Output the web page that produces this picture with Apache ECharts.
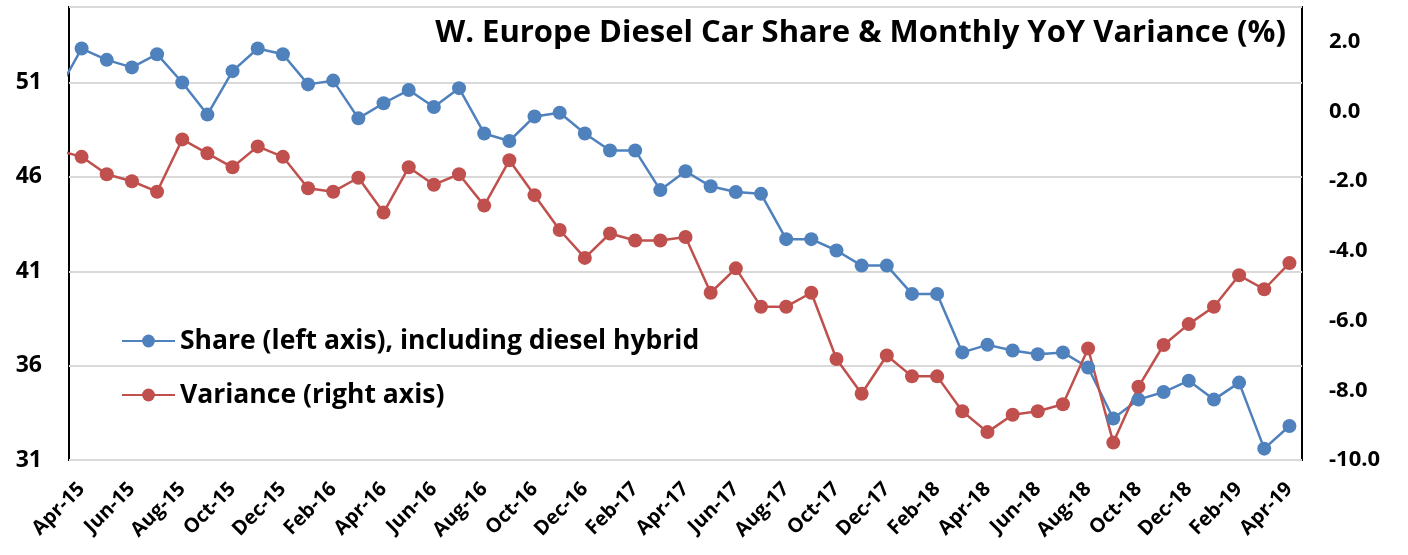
<!DOCTYPE html>
<html>
<head>
<meta charset="utf-8">
<script src="https://cdn.jsdelivr.net/npm/echarts@6/dist/echarts.min.js"></script>
<style>
html,body{margin:0;padding:0;background:#fff;}
#chart{width:1408px;height:555px;}
</style>
</head>
<body>
<div id="chart"></div>
<script>
// First entry (Mar-15) lies just left of the visible axis range and is clipped.
const months = ['Mar-15','Apr-15','May-15','Jun-15','Jul-15','Aug-15','Sep-15','Oct-15','Nov-15','Dec-15',
  'Jan-16','Feb-16','Mar-16','Apr-16','May-16','Jun-16','Jul-16','Aug-16','Sep-16','Oct-16','Nov-16','Dec-16',
  'Jan-17','Feb-17','Mar-17','Apr-17','May-17','Jun-17','Jul-17','Aug-17','Sep-17','Oct-17','Nov-17','Dec-17',
  'Jan-18','Feb-18','Mar-18','Apr-18','May-18','Jun-18','Jul-18','Aug-18','Sep-18','Oct-18','Nov-18','Dec-18',
  'Jan-19','Feb-19','Mar-19','Apr-19'];
const share = [50.4,52.8,52.2,51.8,52.5,51.0,49.3,51.6,52.8,52.5,
  50.9,51.1,49.1,49.9,50.6,49.7,50.7,48.3,47.9,49.2,49.4,48.3,
  47.4,47.4,45.3,46.3,45.5,45.2,45.1,42.7,42.7,42.1,41.3,41.3,
  39.8,39.8,36.7,37.1,36.8,36.6,36.7,35.9,33.2,34.2,34.6,35.2,
  34.2,35.1,31.6,32.8];
const variance = [-1.1,-1.3,-1.8,-2.0,-2.3,-0.8,-1.2,-1.6,-1.0,-1.3,
  -2.2,-2.3,-1.9,-2.9,-1.6,-2.1,-1.8,-2.7,-1.4,-2.4,-3.4,-4.2,
  -3.5,-3.7,-3.7,-3.6,-5.2,-4.5,-5.6,-5.6,-5.2,-7.1,-8.1,-7.0,
  -7.6,-7.6,-8.6,-9.2,-8.7,-8.6,-8.4,-6.8,-9.5,-7.9,-6.7,-6.1,
  -5.6,-4.7,-5.1,-4.35];
const titleText = 'W. Europe Diesel Car Share & Monthly YoY Variance (%)';
const seriesNames = ['Share (left axis), including diesel hybrid', 'Variance (right axis)'];
const leftAxis = {min: 31, max: 55, interval: 5};
const rightAxis = {min: -10, max: 3, interval: 2};

const FONT = '"Open Sans"';
const visibleMonths = months.slice(1);
const chart = echarts.init(document.getElementById('chart'), null, {renderer: 'canvas'});
const toPairs = arr => arr.map((v, i) => [i - 1, v]);

chart.setOption({
  animation: false,
  backgroundColor: '#fff',
  textStyle: {fontFamily: FONT},
  title: {
    text: titleText,
    right: 117, top: 13,
    textStyle: {fontFamily: FONT, fontWeight: 'bold', fontSize: 31, color: '#000'}
  },
  grid: {
    left: 69, right: 106, top: 7, bottom: 95,
    show: true, borderColor: '#000', borderWidth: 2, backgroundColor: 'transparent'
  },
  legend: {
    orient: 'vertical',
    left: 116, top: 321,
    itemWidth: 53, itemHeight: 16, itemGap: 24,
    data: seriesNames,
    textStyle: {fontFamily: FONT, fontWeight: 'bold', fontSize: 26.5, color: '#000', lineHeight: 30}
  },
  xAxis: [
    {
      type: 'category', data: visibleMonths, boundaryGap: true,
      axisLine: {show: false}, axisTick: {show: false},
      axisLabel: {interval: 1, rotate: 45, margin: 26, fontFamily: FONT, fontWeight: 'bold', fontSize: 20, color: '#000'},
      splitLine: {show: false}
    },
    {type: 'value', min: -0.5, max: months.length - 1.5, show: false}
  ],
  yAxis: [
    {
      type: 'value', min: leftAxis.min, max: leftAxis.max, interval: leftAxis.interval,
      axisLine: {show: false}, axisTick: {show: false},
      axisLabel: {margin: 27, fontFamily: FONT, fontWeight: 'bold', fontSize: 23, color: '#000',
        formatter: v => ((v - leftAxis.min) % leftAxis.interval === 0 && v < leftAxis.max) ? String(v) : ''},
      splitLine: {show: true, lineStyle: {color: '#d9d9d9', width: 2}}
    },
    {
      type: 'value', min: rightAxis.min, max: rightAxis.max, interval: rightAxis.interval,
      position: 'right',
      axisLine: {show: false}, axisTick: {show: false},
      axisLabel: {margin: 27, fontFamily: FONT, fontWeight: 'bold', fontSize: 22, color: '#000',
        formatter: v => (v < rightAxis.max) ? v.toFixed(1) : ''},
      splitLine: {show: false}
    }
  ],
  series: [
    {
      name: seriesNames[0], type: 'line', xAxisIndex: 1, yAxisIndex: 0,
      data: toPairs(share), clip: true,
      symbol: 'circle', symbolSize: 14,
      lineStyle: {color: '#4F81BD', width: 2.5},
      itemStyle: {color: '#4F81BD'}
    },
    {
      name: seriesNames[1], type: 'line', xAxisIndex: 1, yAxisIndex: 1,
      data: toPairs(variance), clip: true,
      symbol: 'circle', symbolSize: 14,
      lineStyle: {color: '#C0504D', width: 2.5},
      itemStyle: {color: '#C0504D'}
    }
  ]
});
</script>
</body>
</html>
